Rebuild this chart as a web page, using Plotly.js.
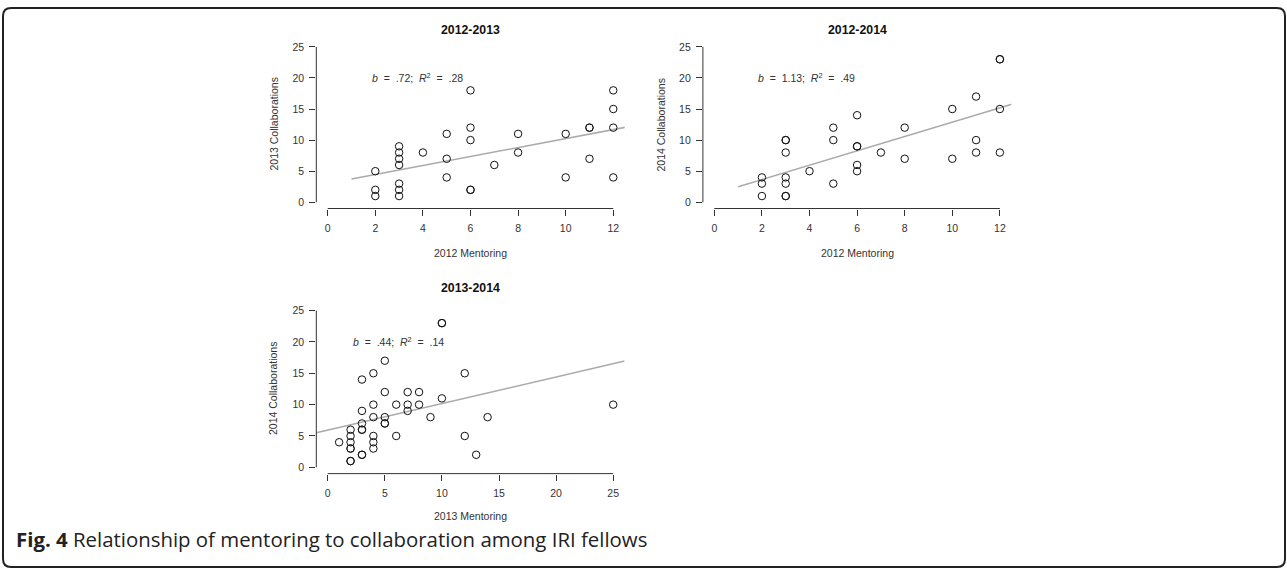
<!DOCTYPE html>
<html>
<head>
<meta charset="utf-8">
<script src="https://cdn.plot.ly/plotly-3.0.1.min.js"></script>
<style>html,body{margin:0;padding:0;background:#fff;}#chart{width:1287px;height:569px;}</style>
</head>
<body>
<div id="chart"></div>
<script>
// ---- Data ----
// Panel 1: 2012 Mentoring vs 2013 Collaborations
const p1Mentoring2012 = [2,2,2, 3,3,3,3,3,3,3, 4, 5,5,5, 6,6,6,6,6, 7, 8,8, 10,10, 11,11,11, 12,12,12,12];
const p1Collab2013    = [5,2,1, 9,8,7,6,3,2,1, 8, 11,7,4, 18,12,10,2,2, 6, 11,8, 11,4, 12,12,7, 18,15,12,4];
const p1FitX = [1, 12.5];
const p1FitY = [3.75, 12.05];
const p1Stat = "<i>b</i>&nbsp; =&nbsp; .72;&nbsp; <i>R</i><sup>2</sup>&nbsp; =&nbsp; .28";

// Panel 2: 2012 Mentoring vs 2014 Collaborations
const p2Mentoring2012 = [2,2,2, 3,3,3,3,3,3,3, 4, 5,5,5, 6,6,6,6,6, 7, 8,8, 10,10, 11,11,11, 12,12,12,12];
const p2Collab2014    = [4,3,1, 10,10,8,4,3,1,1, 5, 12,10,3, 14,9,9,6,5, 8, 12,7, 15,7, 17,10,8, 23,23,15,8];
const p2FitX = [1, 12.5];
const p2FitY = [2.5, 15.75];
const p2Stat = "<i>b</i>&nbsp; =&nbsp; 1.13;&nbsp; <i>R</i><sup>2</sup>&nbsp; =&nbsp; .49";

// Panel 3: 2013 Mentoring vs 2014 Collaborations
const p3Mentoring2013 = [1, 2,2,2,2,2,2,2, 3,3,3,3,3,3,3, 4,4,4,4,4,4, 5,5,5,5,5, 6,6, 7,7,7, 8,8, 9, 10,10,10, 12,12, 13, 14, 25];
const p3Collab2014    = [4, 6,5,4,3,3,1,1, 14,9,7,6,6,2,2, 15,10,8,5,4,3, 17,12,8,7,7, 10,5, 12,10,9, 12,10, 8, 23,23,11, 15,5, 2, 8, 10];
const p3FitX = [-1, 26];
const p3FitY = [5.5, 16.95];
const p3Stat = "<i>b</i>&nbsp; =&nbsp; .44;&nbsp; <i>R</i><sup>2</sup>&nbsp; =&nbsp; .14";

const panelTitles = ["2012-2013", "2012-2014", "2013-2014"];
const xTitles = ["2012 Mentoring", "2012 Mentoring", "2013 Mentoring"];
const yTitles = ["2013 Collaborations", "2014 Collaborations", "2014 Collaborations"];
const xTicks12 = [0,2,4,6,8,10,12];
const xTicks25 = [0,5,10,15,20,25];
const yTicks = [0,5,10,15,20,25];
const caption = "<b>Fig. 4</b> Relationship of mentoring to collaboration among IRI fellows";

// ---- Layout helpers ----
const W = 1287, H = 569;
const px = x => x / W;
const py = y => 1 - y / H;

const FONT = "Liberation Sans, Arial, Helvetica, sans-serif";
const ink = "#333";

function pts(x, y, xa, ya) {
  return {x, y, xaxis: xa, yaxis: ya, type: "scatter", mode: "markers", hoverinfo: "skip",
    marker: {symbol: "circle-open", size: 7.5, color: "#111", line: {width: 1, color: "#111"}}, showlegend: false};
}
function fit(x, y, xa, ya) {
  return {x, y, xaxis: xa, yaxis: ya, type: "scatter", mode: "lines", hoverinfo: "skip",
    line: {color: "#aaaaaa", width: 1.5}, showlegend: false};
}

const data = [
  fit(p1FitX, p1FitY, "x", "y"),
  pts(p1Mentoring2012, p1Collab2013, "x", "y"),
  fit(p2FitX, p2FitY, "x2", "y2"),
  pts(p2Mentoring2012, p2Collab2014, "x2", "y2"),
  fit(p3FitX, p3FitY, "x3", "y3"),
  pts(p3Mentoring2013, p3Collab2014, "x3", "y3"),
];

function xax(domain, range, tickvals, anchor) {
  return {domain, range, tickvals, anchor, ticks: "outside", ticklen: 6, tickwidth: 1, tickcolor: ink,
    showline: false, zeroline: false, showgrid: false, fixedrange: true, ticklabelstandoff: 4,
    tickfont: {family: FONT, size: 10.5, color: ink}};
}
function yax(domain, range, tickvals, anchor) {
  return {domain, range, tickvals, anchor, ticks: "outside", ticklen: 6, tickwidth: 1, tickcolor: ink,
    showline: false, zeroline: false, showgrid: false, fixedrange: true, ticklabelstandoff: 3,
    tickfont: {family: FONT, size: 10.5, color: ink}};
}

const d1x = [px(316.3), px(624.7)], d2x = [px(702.9), px(1011.3)], d3x = [px(316.3), px(624.6)];
const dTop = [py(208.5), py(40.6)], dBot = [py(473.6), py(304.3)];

function axisLines(xr, yr, xmax) {
  return [
    {type: "line", xref: xr, yref: yr + " domain", x0: 0, x1: xmax, y0: 0, y1: 0, line: {color: ink, width: 1}},
    {type: "line", xref: xr + " domain", yref: yr, x0: 0, x1: 0, y0: 0, y1: 25, line: {color: ink, width: 1}},
  ];
}

// rounded frame
const L = 3, R = 1285, T = 8, B = 567, r = 8;
const rx = r / W, ry = r / H;
const frame = `M ${px(L)},${py(B) + ry} L ${px(L)},${py(T) - ry} Q ${px(L)},${py(T)} ${px(L) + rx},${py(T)} ` +
  `L ${px(R) - rx},${py(T)} Q ${px(R)},${py(T)} ${px(R)},${py(T) - ry} L ${px(R)},${py(B) + ry} ` +
  `Q ${px(R)},${py(B)} ${px(R) - rx},${py(B)} L ${px(L) + rx},${py(B)} Q ${px(L)},${py(B)} ${px(L)},${py(B) + ry} Z`;

const shapes = [
  ...axisLines("x", "y", 12),
  ...axisLines("x2", "y2", 12),
  ...axisLines("x3", "y3", 25),
  {type: "path", xref: "paper", yref: "paper", path: frame, line: {color: "#222", width: 2}, fillcolor: "rgba(0,0,0,0)"},
];

function txt(text, x, y, size, extra) {
  return Object.assign({text, x: px(x), y: py(y), xref: "paper", yref: "paper", showarrow: false,
    xanchor: "center", yanchor: "middle", font: {family: FONT, size, color: ink}}, extra || {});
}
const cx1 = 470.5, cx2 = 857.1, cx3 = 470.5;
const annotations = [
  txt("<b>" + panelTitles[0] + "</b>", cx1, 30, 12.3, {font: {family: FONT, size: 12.3, color: "#111"}}),
  txt("<b>" + panelTitles[1] + "</b>", cx2, 30, 12.3, {font: {family: FONT, size: 12.3, color: "#111"}}),
  txt("<b>" + panelTitles[2] + "</b>", cx3, 288, 12.3, {font: {family: FONT, size: 12.3, color: "#111"}}),
  txt(xTitles[0], cx1, 253, 10.5),
  txt(xTitles[1], cx2, 253, 10.5),
  txt(xTitles[2], cx3, 516, 10.5),
  txt(yTitles[0], 273, 124.5, 10.5, {textangle: -90}),
  txt(yTitles[1], 660, 124.5, 10.5, {textangle: -90}),
  txt(yTitles[2], 273, 389, 10.5, {textangle: -90}),
  {text: p1Stat, x: 1.78, y: 20, xref: "x", yref: "y", xanchor: "left", yanchor: "middle", showarrow: false, font: {family: FONT, size: 10.5, color: ink}},
  {text: p2Stat, x: 1.75, y: 20, xref: "x2", yref: "y2", xanchor: "left", yanchor: "middle", showarrow: false, font: {family: FONT, size: 10.5, color: ink}},
  {text: p3Stat, x: 2.0, y: 20, xref: "x3", yref: "y3", xanchor: "left", yanchor: "middle", showarrow: false, font: {family: FONT, size: 10.5, color: ink}},
  {text: caption, x: px(14), y: py(539), xref: "paper", yref: "paper", xanchor: "left", yanchor: "middle", showarrow: false,
    font: {family: "Open Sans, Noto Sans, sans-serif", size: 20.4, color: "#222"}},
];

const layout = {
  width: W, height: H, margin: {l: 0, r: 0, t: 0, b: 0}, paper_bgcolor: "#fff", plot_bgcolor: "rgba(0,0,0,0)",
  showlegend: false,
  xaxis: xax(d1x, [-0.48, 12.48], xTicks12, "y"),
  yaxis: yax(dTop, [-1, 26], yTicks, "x"),
  xaxis2: xax(d2x, [-0.48, 12.48], xTicks12, "y2"),
  yaxis2: yax(dTop, [-1, 26], yTicks, "x2"),
  xaxis3: xax(d3x, [-1, 26], xTicks25, "y3"),
  yaxis3: yax(dBot, [-1, 26], yTicks, "x3"),
  shapes, annotations,
};

Plotly.newPlot("chart", data, layout, {displayModeBar: false, staticPlot: true});
</script>
</body>
</html>
